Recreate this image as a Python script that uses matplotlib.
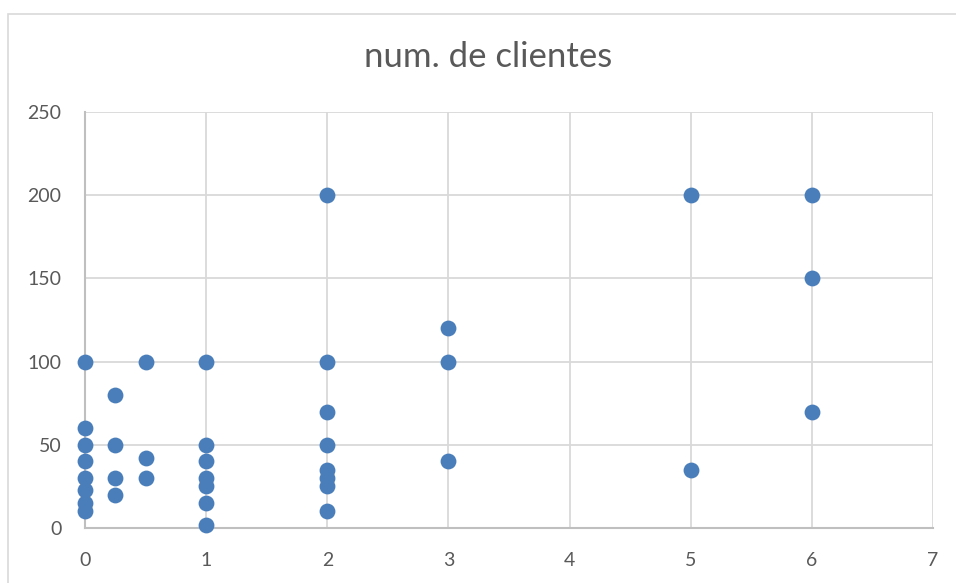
import matplotlib.pyplot as plt
from matplotlib.patches import Rectangle

# data (x = value, y = num. de clientes)
x0 = [0, 0, 0, 0, 0, 0, 0, 0]
y0 = [100, 60, 50, 40, 30, 23, 15, 10]
x_q = [0.25, 0.25, 0.25, 0.25]
y_q = [80, 50, 30, 20]
x_h = [0.5, 0.5, 0.5]
y_h = [100, 42, 30]
x1 = [1, 1, 1, 1, 1, 1, 1]
y1 = [100, 50, 40, 30, 25, 15, 2]
x2 = [2, 2, 2, 2, 2, 2, 2]
y2 = [200, 100, 70, 50, 35, 30, 25]
x2b = [2]
y2b = [10]
x3 = [3, 3, 3]
y3 = [120, 100, 40]
x5 = [5, 5]
y5 = [200, 35]
x6 = [6, 6, 6]
y6 = [200, 150, 70]

xs = x0 + x_q + x_h + x1 + x2 + x2b + x3 + x5 + x6
ys = y0 + y_q + y_h + y1 + y2 + y2b + y3 + y5 + y6

title = "num. de clientes"
x_ticks = [0, 1, 2, 3, 4, 5, 6, 7]
y_ticks = [0, 50, 100, 150, 200, 250]

plt.rcParams['font.family'] = ['Lato', 'DejaVu Sans']

W, H = 956, 583
fig = plt.figure(figsize=(W / 100, H / 100), dpi=100)
ax = fig.add_axes([85 / W, 1 - 528 / H, (933 - 85) / W, (528 - 112) / H])

# outer chart border
fig.patches.append(Rectangle((8 / W, -0.1), 2, 1 - 14 / H + 0.1,
                             transform=fig.transFigure, fill=False,
                             edgecolor='#d9d9d9', linewidth=1.2))

ax.scatter(xs, ys, s=130, color='#4a7ebb', zorder=3, linewidths=0,
           clip_on=False)

ax.set_xlim(0, 7)
ax.set_ylim(0, 250)
ax.set_xticks(x_ticks)
ax.set_yticks(y_ticks)
ax.grid(True, color='#d9d9d9', linewidth=1.3)
ax.set_axisbelow(True)
for side in ['top', 'right']:
    ax.spines[side].set_visible(False)
for side in ['bottom', 'left']:
    ax.spines[side].set_color('#bfbfbf')
    ax.spines[side].set_linewidth(1.5)
ax.tick_params(length=0, labelsize=14, labelcolor='#595959')
ax.tick_params(axis='x', pad=17)
ax.tick_params(axis='y', pad=17)

fig.text(488 / W, 1 - 57 / H, title, ha='center', va='center',
         fontsize=25, color='#595959')

fig.savefig('out.png', dpi=100)
